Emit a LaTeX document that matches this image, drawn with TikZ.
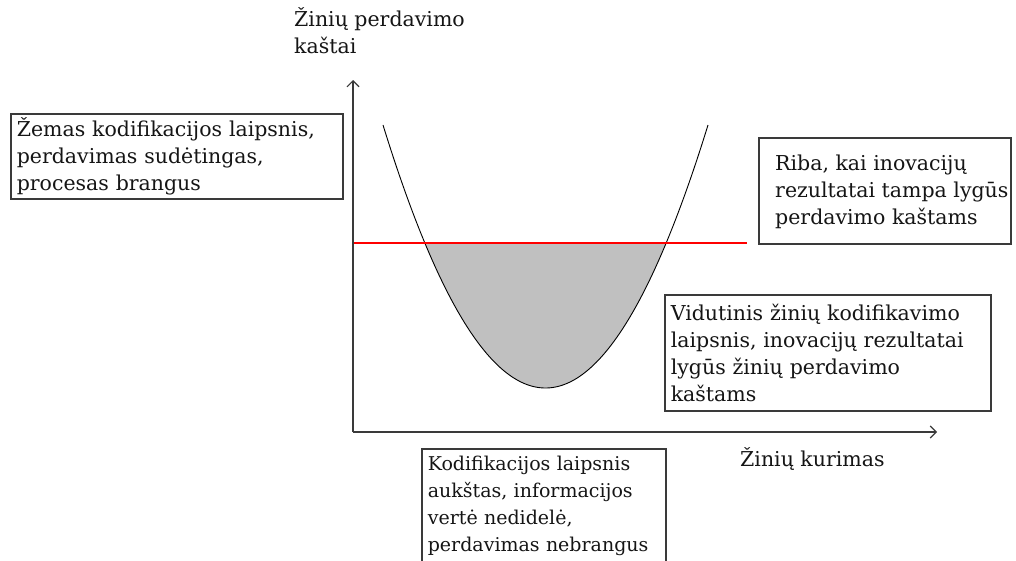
\documentclass[tikz,border=0pt]{standalone}
\usepackage{fontspec}
\setmainfont{DejaVu Serif}
\usetikzlibrary{arrows.meta}
\definecolor{ink}{HTML}{151515}
\definecolor{axisgray}{HTML}{3A3A3A}
\definecolor{fillgray}{HTML}{C0C0C0}
\tikzset{
  txt/.style={font=\fontsize{20.5}{27}\selectfont, text=ink, align=left, inner sep=0pt},
  infobox/.style={draw=axisgray, line width=1.6pt, anchor=north west, txt, inner xsep=6pt},
  axisline/.style={draw=axisgray, line width=1.1pt, -{Straight Barb[length=6pt,width=12pt]}},
}
\begin{document}
\begin{tikzpicture}[x=1pt,y=-1pt]
\useasboundingbox (0,0) rectangle (1016,560);
% axes
\coordinate (O) at (353,432);
\coordinate (Ytop) at (353,80);
\coordinate (Xend) at (937,432);
% shaded region
\begin{scope}
  \clip (353,243) rectangle (760,432);
  \fill[fillgray] plot[domain=383:708, samples=120] (\x, {388 - 99.6*((\x-545.5)/100)^2});
\end{scope}
\draw[black, line width=0.9pt] plot[domain=383:708, samples=120] (\x, {388 - 99.6*((\x-545.5)/100)^2});
% red threshold line
\coordinate (R1) at (353,243);
\coordinate (R2) at (747,243);
\draw[red, line width=1.2pt] (R1) -- (R2);
\draw[axisline] (O) -- (Ytop);
\draw[axisline] (O) -- (Xend);
% axis labels
\node[txt, anchor=north west] (ylab) at (294,7) {Žinių perdavimo\\kaštai};
\node[txt, anchor=west] (xlab) at (740,459) {Žinių kurimas};
% boxes
\node[infobox, minimum width=332pt, minimum height=85pt, text width=320pt] (b1) at (10,113)
  {Žemas kodifikacijos laipsnis,\\perdavimas sudėtingas,\\procesas brangus};
\node[draw=axisgray, line width=1.6pt, anchor=north west, minimum width=252pt, minimum height=106pt, inner sep=0pt] (b2) at (758,137) {};
\node[txt, anchor=west] (b2t) at (775,192)
  {Riba, kai inovacijų\\rezultatai tampa lygūs\\perdavimo kaštams};
\node[infobox, minimum width=326pt, minimum height=116pt, text width=314pt] (b3) at (664,294)
  {Vidutinis žinių kodifikavimo\\laipsnis, inovacijų rezultatai\\lygūs žinių perdavimo\\kaštams};
\node[infobox, font=\fontsize{19}{27}\selectfont, minimum width=244pt, minimum height=114pt, text width=232pt, inner xsep=6pt] (b4) at (421,448)
  {Kodifikacijos laipsnis\\aukštas, informacijos\\vertė nedidelė,\\perdavimas nebrangus};
\end{tikzpicture}
\end{document}
